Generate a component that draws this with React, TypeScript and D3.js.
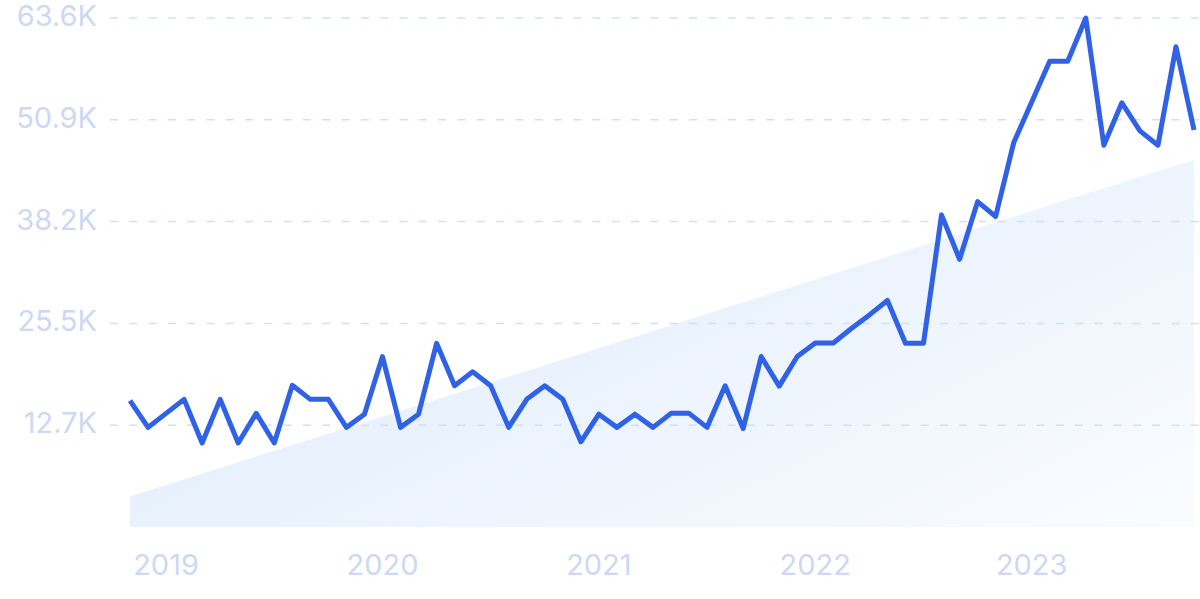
import React from "react";
import * as d3 from "d3";

const months: string[] = [
  "2018-11","2018-12",
  "2019-01","2019-02","2019-03","2019-04","2019-05","2019-06","2019-07","2019-08","2019-09","2019-10","2019-11","2019-12",
  "2020-01","2020-02","2020-03","2020-04","2020-05","2020-06","2020-07","2020-08","2020-09","2020-10","2020-11","2020-12",
  "2021-01","2021-02","2021-03","2021-04","2021-05","2021-06","2021-07","2021-08","2021-09","2021-10","2021-11","2021-12",
  "2022-01","2022-02","2022-03","2022-04","2022-05","2022-06","2022-07","2022-08","2022-09","2022-10","2022-11","2022-12",
  "2023-01","2023-02","2023-03","2023-04","2023-05","2023-06","2023-07","2023-08","2023-09","2023-10",
];

const searches: number[] = [
  15800, 12450,
  14200, 15950, 10500, 15950, 10500, 14200, 10500, 17700, 15950, 15950, 12450, 14100,
  21300, 12450, 14100, 22950, 17650, 19400, 17650, 12450, 15950, 17650, 15950, 10650,
  14100, 12450, 14100, 12450, 14200, 14200, 12450, 17650, 12300, 21300, 17600, 21300,
  23000, 23000, 24800, 26500, 28300, 22950, 22950, 39000, 33450, 40650, 38800, 48000,
  53100, 58200, 58200, 63600, 47700, 53000, 49500, 47700, 60000, 49600,
];

const trendValues: number[] = [3800, 45900];

const yTicks: number[] = [12720, 25440, 38160, 50880, 63600];
const yTickLabels: string[] = ["12.7K", "25.5K", "38.2K", "50.9K", "63.6K"];

const yearLabels: string[] = ["2019", "2020", "2021", "2022", "2023"];

export default function App() {
  const W = 1200;
  const H = 599;
  const x = d3.scaleLinear().domain([0, months.length - 1]).range([130, 1194]);
  const y = d3.scaleLinear().domain([0, 63600]).range([527, 18]);

  const line = d3
    .line<number>()
    .x((_, i) => x(i))
    .y((d) => y(d))
    .curve(d3.curveLinear);

  const trendArea = d3
    .area<number>()
    .x((_, i) => x(i * (months.length - 1)))
    .y0(() => y(0))
    .y1((d) => y(d));

  const font = "Inter, 'Noto Sans', sans-serif";

  return (
    <svg
      width={W}
      height={H}
      viewBox={`0 0 ${W} ${H}`}
      style={{ position: "absolute", left: 0, top: 0, background: "#ffffff" }}
    >
      <defs>
        <linearGradient id="trendGrad" x1="0" y1="0.3" x2="1" y2="1">
          <stop offset="0%" stopColor="#dfecfb" />
          <stop offset="100%" stopColor="#fafcff" />
        </linearGradient>
      </defs>

      <path d={trendArea(trendValues) || ""} fill="url(#trendGrad)" />

      {yTicks.map((t, i) => (
        <g key={t}>
          <line
            x1={110}
            x2={1200}
            y1={y(t)}
            y2={y(t)}
            stroke="#cfe0fb"
            strokeWidth={1.5}
            strokeDasharray="8 11.3"
          />
          <text
            x={97}
            y={y(t) + 8}
            textAnchor="end"
            fontFamily={font}
            fontSize={29}
            fill="#cdd8f5"
          >
            {yTickLabels[i]}
          </text>
        </g>
      ))}

      <path
        d={line(searches) || ""}
        fill="none"
        stroke="#2f62e6"
        strokeWidth={5}
        strokeLinejoin="round"
        strokeLinecap="butt"
      />

      {yearLabels.map((yr) => {
        const idx = months.indexOf(`${yr}-01`);
        return (
          <text
            key={yr}
            x={x(idx)}
            y={575}
            textAnchor="middle"
            fontFamily={font}
            fontSize={29}
            fill="#cdd8f5"
          >
            {yr}
          </text>
        );
      })}
    </svg>
  );
}
